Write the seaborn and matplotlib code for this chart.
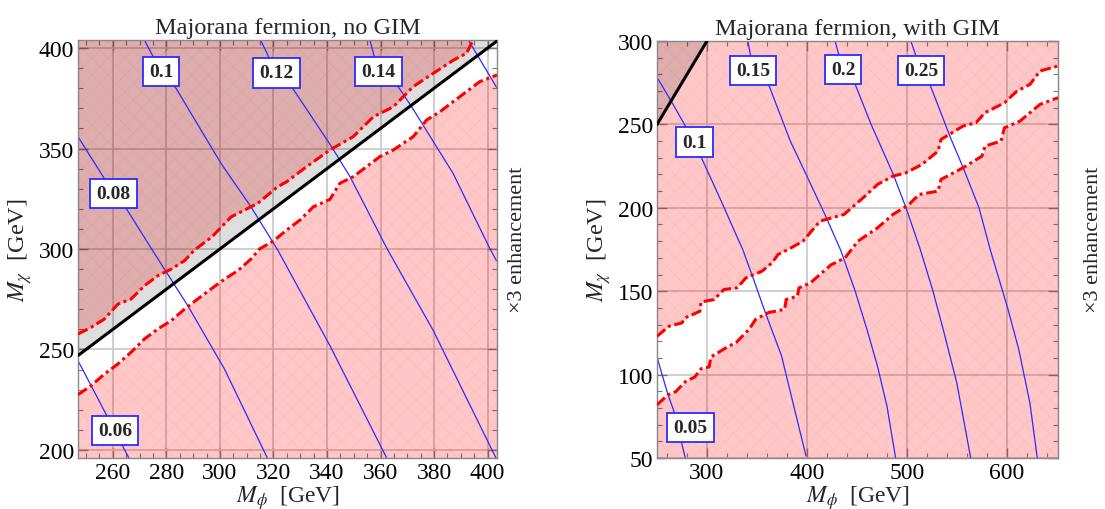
import matplotlib
matplotlib.use("Agg")
import matplotlib.pyplot as plt
import seaborn as sns
from matplotlib.ticker import MultipleLocator

sns.set_style("ticks")
plt.rcParams["font.family"] = ["Liberation Serif", "DejaVu Serif"]
plt.rcParams["mathtext.fontset"] = "stix"
plt.rcParams["hatch.linewidth"] = 0.6

# ---------------- data: left panel (no GIM) ----------------
L_xlim = (247, 403.5)
L_ylim = (196, 404)
L_upper_x = [247, 251.9, 256.9, 261.9, 266.8, 271.8, 276.8, 281.8, 286.8, 290.5,
             297, 304.2, 314.1, 321.6, 325, 332.4, 341.1, 349.8, 357.3, 364.8,
             372.2, 379.7, 387.1, 392.1, 394.6]
L_upper_y = [257.7, 261, 265.2, 272.6, 275.1, 281.7, 286.7, 290, 294.2, 299.5,
             306, 316, 322.7, 331, 333.5, 341, 349.3, 355.9, 365.8, 370.8,
             380.8, 387.4, 393.9, 397.4, 404]
L_lower_x = [247, 251.9, 256.9, 261.9, 266.8, 271.8, 276.8, 281.8, 286.8, 291.7,
             296.7, 301.7, 306.7, 311.6, 314.8, 320, 325, 329.9, 334.9, 341.1,
             344.8, 349.8, 354.8, 359.8, 364.8, 372.2, 377.2, 382.2, 387.1,
             392.1, 397.1, 403.5]
L_lower_y = [227.5, 232, 237.8, 242.8, 248.6, 255.2, 260.2, 264.3, 270.1, 275.1,
             280.1, 285, 289.2, 295, 300, 304, 309.5, 314.4, 321, 324.7,
             332.7, 336, 341, 346, 349.3, 355.9, 364.2, 368.3, 373.3,
             378.3, 383.3, 386.6]
L_diag = [247, 404]
L_contours = {
    "0.06": ([247, 251.9, 260.6, 266.2], [244.4, 232, 209.8, 195.5]),
    "0.08": ([247, 260.3, 265, 274.5, 288, 301.7, 317.9],
             [355.9, 327.7, 320.2, 300, 271.8, 240.3, 195.5]),
    "0.1": ([271.8, 278, 283.6, 300.4, 311.6, 321.6, 341.1, 362.3],
            [404, 388.2, 380, 342.6, 321, 299.5, 251.9, 196]),
    "0.12": ([315.2, 321.1, 326.8, 341.7, 348.6, 362.5, 379.7, 403.3],
             [404, 387.6, 380.7, 350.9, 336, 300, 259.4, 195.5]),
    "0.14": ([356, 359.2, 366.6, 371.6, 374.7, 387.1, 400.8, 403.3],
             [404, 388.2, 380.7, 370.8, 364.2, 337.6, 300.3, 294.2]),
    "0.16": ([392.8, 403.3], [404, 380.5]),
}
L_labels = {"0.06": (260.9, 209.8), "0.08": (260.3, 327.7), "0.1": (278, 388.2),
            "0.12": (321.1, 387.6), "0.14": (359.2, 388.2)}

# ---------------- data: right panel (with GIM) ----------------
R_xlim = (250, 651)
R_ylim = (50, 300)
R_upper_x = [250, 262, 275, 278, 293, 294, 307, 317, 330, 339, 355, 365, 371, 381,
             396, 413, 437, 458, 470.5, 486, 499, 515, 531, 534, 556, 569, 578,
             597.5, 610, 623, 633, 651]
R_upper_y = [123, 129, 131, 134, 138, 143.5, 145, 151, 152, 158, 162, 167, 172, 175,
             180, 192, 196, 207, 214, 219, 221, 226, 234, 241, 249, 251, 257,
             263, 270, 274, 282, 285]
R_lower_x = [250, 260.6, 268.6, 278.2, 287.8, 294.2, 302.2, 303.8, 319.9, 329.5,
             342.3, 348.7, 361.5, 377.6, 379.2, 390.4, 392, 403.2, 412.8, 424,
             438, 451, 470.5, 486, 502, 512, 531, 534, 556, 575, 578, 594,
             597.5, 613, 623, 633, 651]
R_lower_y = [81.8, 87.8, 89.7, 95.7, 98.6, 103.6, 104.6, 110.5, 116.4, 119.4,
             127.3, 133.2, 137.2, 139.1, 145.1, 147, 152, 154.9, 159.9, 165.8,
             170, 180, 188, 196, 202, 208, 210, 217, 224, 231, 237, 240,
             248, 252, 257, 262, 266]
R_diag = [250, 300]
R_contours = {
    "0.05": ([250, 260.6, 267, 278.2], [110.5, 88.7, 77.9, 50.2]),
    "0.1": ([251.3, 267, 287.4, 293.7, 314.2, 335.9, 345.5, 358.3, 374.4, 399],
            [277, 261, 239.4, 231, 204, 174.7, 158.9, 137.2, 111.5, 51.2]),
    "0.15": ([340.9, 346.2, 361.3, 383.3, 399.1, 417.9, 433.6, 448.2, 461, 470.5, 480, 488.9],
             [300, 282.4, 274.4, 240, 220, 196, 174.7, 150, 125, 105, 81, 49]),
    "0.2": ([428, 436, 448.2, 464.1, 486.3, 499, 513.3, 526, 537.1, 549.8, 564],
            [300, 283, 274, 250, 220, 200, 175, 150, 125, 95, 49]),
    "0.25": ([503.8, 514, 522.9, 543.5, 556.2, 572, 583.2, 600.6, 611.8, 622.9, 630.5],
             [300, 282.4, 274, 242, 224, 200, 175, 140, 115, 83, 49]),
}
R_labels = {"0.05": (283.3, 68.2), "0.1": (287.4, 239.4), "0.15": (346.2, 282.4),
            "0.2": (436, 283), "0.25": (514, 282.4)}

PINK = (1.0, 0.0, 0.0, 0.22)
GREY = (0.0, 0.0, 0.0, 0.13)
BLUE = "#2b2bff"


def draw_panel(ax, xlim, ylim, up_x, up_y, lo_x, lo_y, diag, contours, labels,
               title, xmaj, xmin, ymaj, ymin):
    ax.set_xlim(*xlim)
    ax.set_ylim(*ylim)
    ax.xaxis.set_major_locator(MultipleLocator(xmaj))
    ax.xaxis.set_minor_locator(MultipleLocator(xmin))
    ax.yaxis.set_major_locator(MultipleLocator(ymaj))
    ax.yaxis.set_minor_locator(MultipleLocator(ymin))
    ax.grid(True, which="major", color="#cbcbcb", lw=1.3, zorder=0)
    ax.set_axisbelow(True)

    # excluded regions (outside the band)
    ax.fill_between(up_x, up_y, ylim[1] + 20, color=PINK, lw=0, zorder=1)
    ax.fill_between(lo_x, ylim[0] - 20, lo_y, color=PINK, lw=0, zorder=1)
    ax.fill_between(up_x, up_y, ylim[1] + 20, facecolor="none",
                    edgecolor=(1, 0.3, 0.3, 0.07), hatch="xx", lw=0, zorder=1.1)
    ax.fill_between(lo_x, ylim[0] - 20, lo_y, facecolor="none",
                    edgecolor=(1, 0.3, 0.3, 0.07), hatch="xx", lw=0, zorder=1.1)
    # M_chi > M_phi region
    ax.fill_between(diag, diag, ylim[1] + 20, color=GREY, lw=0, zorder=1.2)

    for name, (cx, cy) in contours.items():
        sns.lineplot(x=cx, y=cy, sort=False, estimator=None, ax=ax,
                     color=BLUE, lw=0.9, zorder=2)
    sns.lineplot(x=up_x, y=up_y, sort=False, estimator=None, ax=ax, color="red",
                 lw=2.2, zorder=3).lines[-1].set_dashes([3.5, 1.2, 1, 1.2])
    sns.lineplot(x=lo_x, y=lo_y, sort=False, estimator=None, ax=ax, color="red",
                 lw=2.2, zorder=3).lines[-1].set_dashes([3.5, 1.2, 1, 1.2])
    sns.lineplot(x=diag, y=diag, sort=False, estimator=None, ax=ax, color="black",
                 lw=2.2, zorder=4)

    for name, (lx, ly) in labels.items():
        ax.text(lx, ly, name, ha="center", va="center", fontsize=14,
                fontweight="bold", zorder=6,
                bbox=dict(boxstyle="square,pad=0.32", fc="white", ec=BLUE, lw=1.3))

    ax.set_title(title, fontsize=17.5, pad=5)
    ax.set_xlabel(r"$M_\phi$  [GeV]", fontsize=17, labelpad=0)
    ax.set_ylabel(r"$M_\chi$  [GeV]", fontsize=17.5, labelpad=3)
    ax.tick_params(which="both", direction="in", top=True, right=True,
                   colors="#777777", labelcolor="black", labelsize=17)
    ax.tick_params(which="major", length=7, width=1, pad=3)
    ax.tick_params(which="minor", length=3.5, width=0.8)
    for s in ax.spines.values():
        s.set_color("#888888")
        s.set_linewidth(1)


fig = plt.figure(figsize=(11.05, 5.10), dpi=100)
ax1 = fig.add_axes([78 / 1105, 51 / 510, 419 / 1105, 418 / 510])
ax2 = fig.add_axes([657 / 1105, 51 / 510, 401 / 1105, 417 / 510])

draw_panel(ax1, L_xlim, L_ylim, L_upper_x, L_upper_y, L_lower_x, L_lower_y,
           L_diag, L_contours, L_labels, "Majorana fermion, no GIM", 20, 5, 50, 10)
draw_panel(ax2, R_xlim, R_ylim, R_upper_x, R_upper_y, R_lower_x, R_lower_y,
           R_diag, R_contours, R_labels, "Majorana fermion, with GIM", 100, 20, 50, 10)

fig.text(518 / 1105, 0.53, "×3 enhancement", rotation=90, ha="center",
         va="center", fontsize=16)
fig.text(1093 / 1105, 0.53, "×3 enhancement", rotation=90, ha="center",
         va="center", fontsize=16)

fig.savefig("out.png", dpi=100)
